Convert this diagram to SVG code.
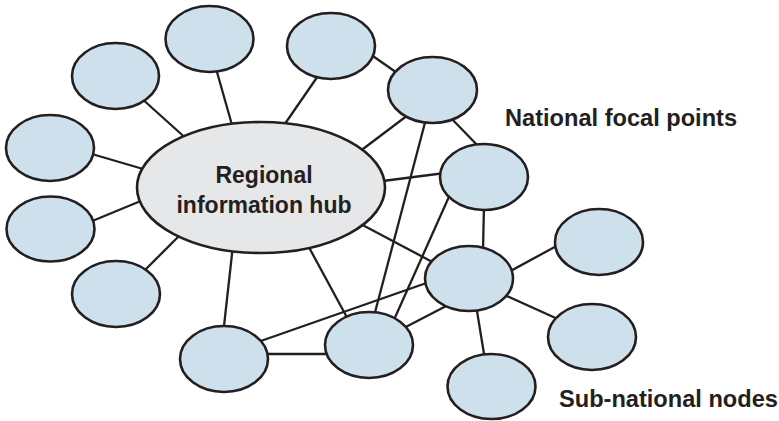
<svg xmlns="http://www.w3.org/2000/svg" width="779" height="421" viewBox="0 0 779 421">
<style>
.n{fill:#cde0ec;stroke:#231f20;stroke-width:2.6}
.hub{fill:#e6e7e8;stroke:#231f20;stroke-width:2.6}
.c line{stroke:#231f20;stroke-width:2.3}
.t{font-family:"Liberation Sans",Arial,sans-serif;font-weight:bold;font-size:23px;fill:#231f20}
.lb{font-size:23.6px}
</style>
<rect width="779" height="421" fill="#fff"/>
<g id="connectors" class="c">
<line x1="140" y1="97" x2="190" y2="142"/>
<line x1="215" y1="65" x2="234" y2="132"/>
<line x1="320" y1="73" x2="280" y2="131"/>
<line x1="85" y1="152" x2="150" y2="171"/>
<line x1="85" y1="224" x2="148" y2="198"/>
<line x1="140" y1="275" x2="185" y2="230"/>
<line x1="223" y1="335" x2="233" y2="245"/>
<line x1="350" y1="323" x2="305" y2="240"/>
<line x1="412" y1="112" x2="355" y2="155"/>
<line x1="445" y1="173" x2="375" y2="182"/>
<line x1="355" y1="221" x2="440" y2="266"/>
<line x1="370" y1="54" x2="400" y2="75"/>
<line x1="448" y1="115" x2="482" y2="150"/>
<line x1="427" y1="115" x2="373" y2="320"/>
<line x1="452" y1="190" x2="393" y2="322"/>
<line x1="484" y1="205" x2="483" y2="250"/>
<line x1="255" y1="343" x2="435" y2="280"/>
<line x1="400" y1="330" x2="450" y2="304"/>
<line x1="260" y1="354" x2="330" y2="354"/>
<line x1="505" y1="274" x2="562" y2="243"/>
<line x1="500" y1="293" x2="560" y2="320"/>
<line x1="476" y1="305" x2="485" y2="360"/>
</g>
<g id="hub"><ellipse class="hub" cx="261" cy="187.5" rx="124" ry="65.5"/>
<text class="t" x="264" y="183" text-anchor="middle">Regional</text>
<text class="t" x="264" y="213" text-anchor="middle">information hub</text></g>
<g id="nodeA"><ellipse class="n" cx="115.5" cy="76" rx="43.5" ry="33"/></g>
<g id="nodeB"><ellipse class="n" cx="209.5" cy="39" rx="44" ry="33"/></g>
<g id="nodeC"><ellipse class="n" cx="331" cy="46" rx="44" ry="33"/></g>
<g id="nodeD"><ellipse class="n" cx="50" cy="148" rx="44" ry="33"/></g>
<g id="nodeE"><ellipse class="n" cx="50.5" cy="229" rx="44" ry="32.5"/></g>
<g id="nodeF"><ellipse class="n" cx="116" cy="294" rx="44" ry="33"/></g>
<g id="nodeG"><ellipse class="n" cx="224" cy="359" rx="44" ry="33"/></g>
<g id="nodeH"><ellipse class="n" cx="369" cy="345" rx="44" ry="33"/></g>
<g id="nodeI"><ellipse class="n" cx="432.5" cy="90" rx="44.5" ry="33"/></g>
<g id="nodeJ"><ellipse class="n" cx="484" cy="177" rx="44" ry="33"/></g>
<g id="nodeK"><ellipse class="n" cx="469" cy="278.5" rx="44" ry="32.5"/></g>
<g id="nodeL"><ellipse class="n" cx="599" cy="242" rx="44" ry="33"/></g>
<g id="nodeM"><ellipse class="n" cx="592" cy="337" rx="44" ry="33"/></g>
<g id="nodeN"><ellipse class="n" cx="491.5" cy="386.5" rx="44" ry="32.5"/></g>
<g id="labels">
<text class="t lb" x="505" y="126">National focal points</text>
<text class="t lb" x="559" y="407">Sub-national nodes</text>
</g>
</svg>
